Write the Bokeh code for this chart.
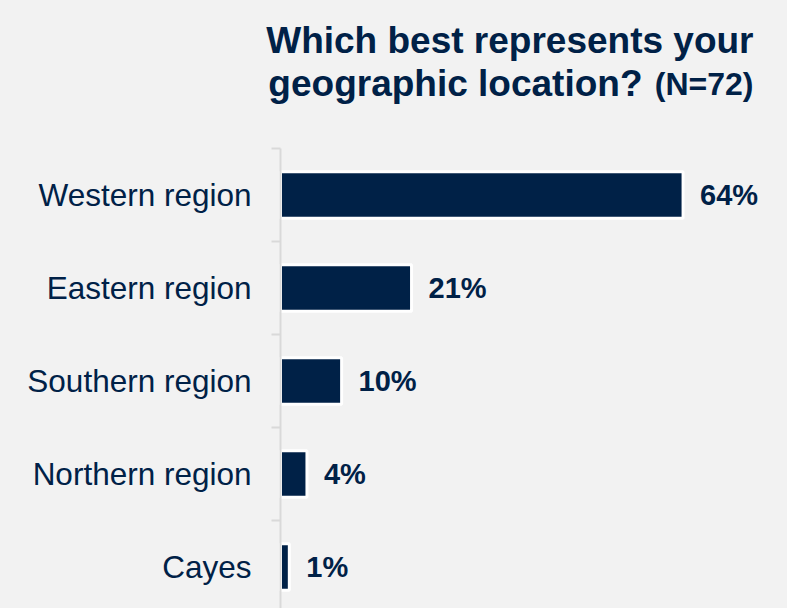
from bokeh.plotting import figure
from bokeh.models import Range1d, Label, LabelSet, ColumnDataSource
from bokeh.core.properties import value
from bokeh.embed import file_html
from bokeh.resources import INLINE

categories = ["Western region", "Eastern region", "Southern region", "Northern region", "Cayes"]
values = [63.9, 20.8, 9.7, 4.2, 1.4]
value_labels = ["64%", "21%", "10%", "4%", "1%"]
title_line1 = "Which best represents your"
title_line2 = "geographic location?"
title_n = "(N=72)"

NAVY = "#002147"
BG = "#f2f2f2"
AXIS = "#d9d9d9"
FONT = "Liberation Sans"

n = len(categories)
ypos = [n - 1 - i for i in range(n)]
bounds = [y + 0.5 for y in ypos]
src = ColumnDataSource(dict(y=ypos, v=values, lab=value_labels, cat=categories))

W, H = 787, 608
LEFT, TOP = 280, 148
XPX = 6.30      # pixels per percent
YPX = 93.0      # pixels per category
TICK = 9        # tick length in px
x_start = -LEFT / XPX
x_end = (W - LEFT) / XPX
y_first = n - 0.5                      # top edge of first category band
y_bot = y_first - (H - TOP) / YPX
y_canvas_top = y_first + TOP / YPX     # title area above the bars

p = figure(width=W, height=H, output_backend="svg", toolbar_location=None, title=None,
           x_axis_location=None, y_axis_location=None,
           x_range=Range1d(x_start, x_end), y_range=Range1d(y_bot, y_canvas_top),
           min_border_left=0, min_border_right=0, min_border_top=0, min_border_bottom=0)
p.background_fill_color = BG
p.border_fill_color = BG
p.outline_line_color = None
p.grid.visible = False

p.hbar(y="y", right="v", left=0, height=0.5, source=src,
       fill_color=NAVY, line_color="white", line_width=3)

# category axis: line along the bands and ticks at band boundaries
p.segment(x0=[0], y0=[y_bot], x1=[0], y1=[y_first], line_color=AXIS, line_width=2)
p.segment(x0=[-TICK / XPX] * len(bounds), y0=bounds, x1=[0] * len(bounds), y1=bounds,
          line_color=AXIS, line_width=2)

cat_labels = LabelSet(x=0, y="y", text="cat", source=src, x_offset=-29,
                      text_baseline="middle", text_align="right",
                      text_font=value(FONT), text_font_size="31.5px", text_color=NAVY)
p.add_layout(cat_labels)

val_labels = LabelSet(x="v", y="y", text="lab", source=src, x_offset=17,
                      text_baseline="middle", text_align="left",
                      text_font=value(FONT), text_font_style="bold", text_font_size="29px",
                      text_color=NAVY)
p.add_layout(val_labels)

# title positions (page pixels converted to data space above the bars)
def dx(px):
    return (px - LEFT) / XPX

def dy(py):
    return y_first + (TOP - py) / YPX

p.add_layout(Label(x=dx(753), y=dy(40), text=title_line1, text_align="right",
                   text_baseline="alphabetic", text_font=FONT, text_font_style="bold",
                   text_font_size="37px", text_color=NAVY))
p.add_layout(Label(x=dx(642), y=dy(83), text=title_line2, text_align="right",
                   text_baseline="alphabetic", text_font=FONT, text_font_style="bold",
                   text_font_size="37px", text_color=NAVY))
p.add_layout(Label(x=dx(753), y=dy(83), text=title_n, text_align="right",
                   text_baseline="alphabetic", text_font=FONT, text_font_style="bold",
                   text_font_size="32px", text_color=NAVY))

html = file_html(p, INLINE)
html = html.replace("<head>", "<head><style>html,body{background:#f2f2f2;}</style>", 1)
open("out.html", "w").write(html)
